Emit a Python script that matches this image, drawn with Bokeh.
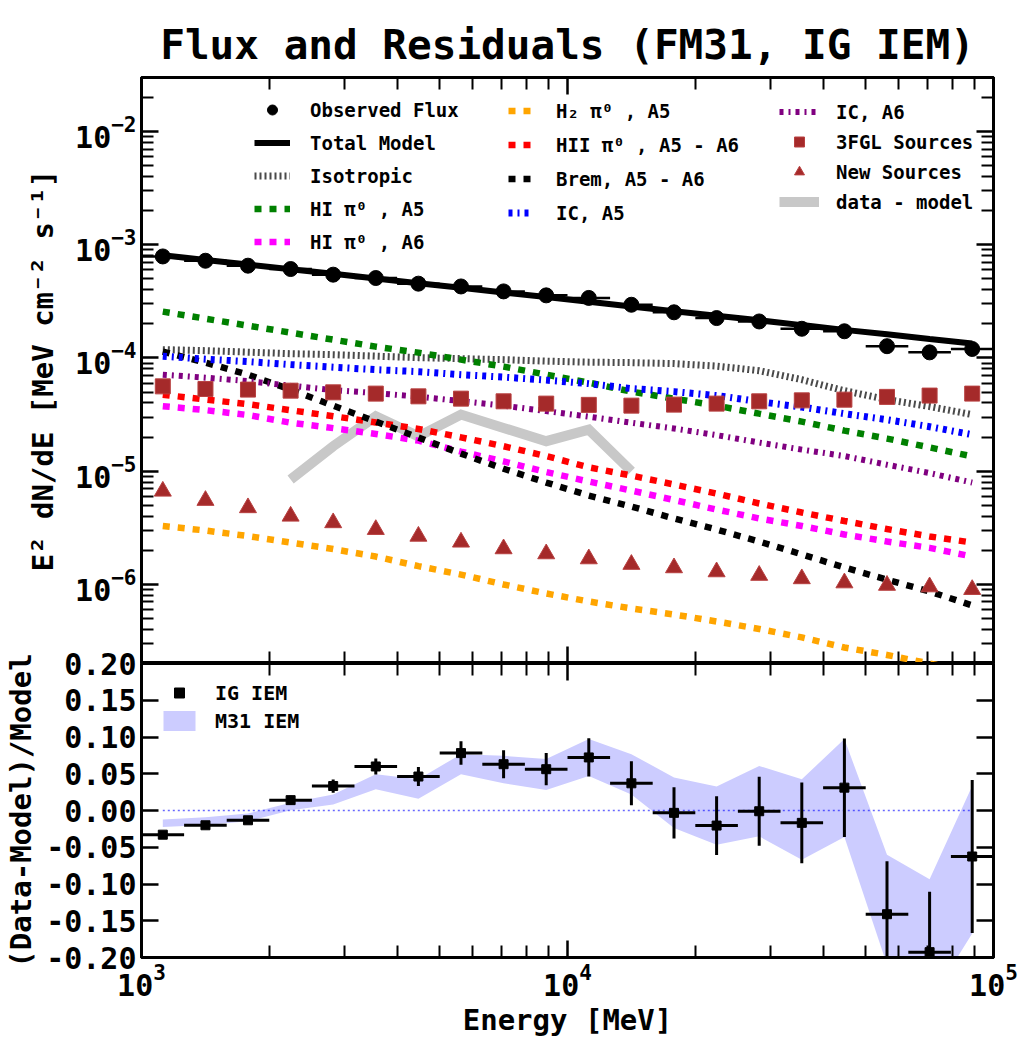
from bokeh.plotting import figure
from bokeh.models import (Range1d, FixedTicker, LogAxis, LinearAxis, Legend, LegendItem,
                          NumeralTickFormatter, CustomJSTickFormatter)
from bokeh.layouts import column
from bokeh.embed import file_html
from bokeh.resources import INLINE

# ---------------- data ----------------
energy = [1122, 1413, 1778, 2239, 2818, 3548, 4467, 5623, 7079, 8913,
          11220, 14125, 17783, 22387, 28184, 35481, 44668, 56234, 70795, 89125]
e_lo = [1000, 1259, 1585, 1995, 2512, 3162, 3981, 5012, 6310, 7943,
        10000, 12589, 15849, 19953, 25119, 31623, 39811, 50119, 63096, 79433]
e_hi = [1259, 1585, 1995, 2512, 3162, 3981, 5012, 6310, 7943, 10000,
        12589, 15849, 19953, 25119, 31623, 39811, 50119, 63096, 79433, 100000]

observed_flux = [7.88e-4, 7.22e-4, 6.53e-4, 6.10e-4, 5.44e-4, 5.08e-4, 4.53e-4, 4.28e-4, 3.87e-4, 3.57e-4,
                 3.39e-4, 2.95e-4, 2.53e-4, 2.25e-4, 2.10e-4, 1.81e-4, 1.72e-4, 1.27e-4, 1.12e-4, 1.20e-4]
total_model = [8.08e-4, 7.34e-4, 6.69e-4, 6.08e-4, 5.54e-4, 5.03e-4, 4.57e-4, 4.17e-4, 3.79e-4, 3.45e-4,
               3.13e-4, 2.85e-4, 2.59e-4, 2.36e-4, 2.15e-4, 1.95e-4, 1.77e-4, 1.62e-4, 1.47e-4, 1.34e-4]
isotropic = [1.184e-4, 1.160e-4, 1.125e-4, 1.091e-4, 1.069e-4, 1.037e-4, 1.006e-4, 9.86e-5, 9.66e-5, 9.37e-5,
             9.18e-5, 9.09e-5, 8.91e-5, 8.47e-5, 7.72e-5, 6.43e-5, 5.14e-5, 4.29e-5, 3.72e-5, 3.16e-5]
hi_a5 = [2.563e-4, 2.223e-4, 1.928e-4, 1.672e-4, 1.450e-4, 1.258e-4, 1.114e-4, 9.66e-5, 8.38e-5, 7.12e-5,
         6.05e-5, 5.04e-5, 4.37e-5, 3.79e-5, 3.22e-5, 2.74e-5, 2.28e-5, 1.94e-5, 1.62e-5, 1.35e-5]
hi_a6 = [3.75e-5, 3.46e-5, 3.13e-5, 2.68e-5, 2.40e-5, 2.13e-5, 1.86e-5, 1.49e-5, 1.22e-5, 9.82e-6,
         8.09e-6, 6.74e-6, 5.56e-6, 4.58e-6, 3.82e-6, 3.28e-6, 2.76e-6, 2.39e-6, 2.10e-6, 1.76e-6]
h2_a5 = [3.28e-6, 2.99e-6, 2.67e-6, 2.34e-6, 2.05e-6, 1.76e-6, 1.45e-6, 1.22e-6, 9.98e-7, 8.31e-7,
         7.06e-7, 6.13e-7, 5.42e-7, 4.70e-7, 4.04e-7, 3.40e-7, 2.77e-7, 2.38e-7, 2.00e-7, 1.70e-7]
hii_a5_a6 = [4.74e-5, 4.29e-5, 3.91e-5, 3.45e-5, 3.06e-5, 2.69e-5, 2.36e-5, 1.99e-5, 1.66e-5, 1.36e-5,
             1.08e-5, 9.14e-6, 7.62e-6, 6.34e-6, 5.18e-6, 4.31e-6, 3.63e-6, 3.08e-6, 2.65e-6, 2.34e-6]
brem_a5_a6 = [1.137e-4, 9.09e-5, 7.12e-5, 5.25e-5, 3.79e-5, 2.74e-5, 1.98e-5, 1.43e-5, 1.05e-5, 7.93e-6,
              6.09e-6, 4.87e-6, 3.82e-6, 3.05e-6, 2.39e-6, 1.84e-6, 1.41e-6, 1.10e-6, 8.66e-7, 6.51e-7]
ic_a5 = [1.037e-4, 9.76e-5, 9.28e-5, 8.73e-5, 8.29e-5, 7.88e-5, 7.57e-5, 7.12e-5, 6.77e-5, 6.37e-5,
         5.93e-5, 5.36e-5, 5.04e-5, 4.65e-5, 4.11e-5, 3.68e-5, 3.22e-5, 2.85e-5, 2.47e-5, 2.10e-5]
ic_a6 = [7.12e-5, 6.70e-5, 6.24e-5, 5.69e-5, 5.20e-5, 4.89e-5, 4.55e-5, 4.16e-5, 3.79e-5, 3.39e-5,
         3.03e-5, 2.68e-5, 2.38e-5, 2.08e-5, 1.79e-5, 1.55e-5, 1.36e-5, 1.14e-5, 9.62e-6, 7.93e-6]
fgl3_sources = [5.61e-5, 5.32e-5, 5.25e-5, 5.14e-5, 4.97e-5, 4.84e-5, 4.58e-5, 4.37e-5, 4.14e-5, 3.95e-5,
                3.85e-5, 3.79e-5, 3.87e-5, 3.95e-5, 4.14e-5, 4.22e-5, 4.28e-5, 4.53e-5, 4.65e-5, 4.84e-5]
new_sources = [6.65e-6, 5.51e-6, 4.75e-6, 4.00e-6, 3.50e-6, 3.05e-6, 2.66e-6, 2.36e-6, 2.06e-6, 1.86e-6,
               1.68e-6, 1.50e-6, 1.40e-6, 1.29e-6, 1.20e-6, 1.12e-6, 1.03e-6, 9.8e-7, 9.5e-7, 9.0e-7]
dm_energy = [2239, 2818, 3548, 4467, 5623, 7079, 8913, 11220, 14125]
data_minus_model = [8.43e-6, 1.66e-5, 3.05e-5, 2.03e-5, 3.16e-5, 2.41e-5, 1.84e-5, 2.33e-5, 9.98e-6]

residual_ig = [-0.0329, -0.0201, -0.0133, 0.0141, 0.0333, 0.0599, 0.0462, 0.0781, 0.0630, 0.0562,
               0.0722, 0.0370, -0.0032, -0.0205, -0.0010, -0.0168, 0.0311, -0.1411, -0.1927, -0.0626]
residual_err = [0.003, 0.004, 0.005, 0.006, 0.009, 0.011, 0.013, 0.016, 0.019, 0.022,
                0.026, 0.030, 0.035, 0.040, 0.047, 0.055, 0.067, 0.072, 0.082, 0.104]
m31_upper = [-0.0123, -0.0092, -0.0041, 0.0105, 0.0219, 0.0493, 0.0425, 0.0767, 0.0744, 0.0699,
             0.0973, 0.0767, 0.0448, 0.0325, 0.0607, 0.0425, 0.0973, -0.0603, -0.0936, 0.0333]
m31_lower = [-0.0223, -0.0196, -0.0147, 0.0004, 0.0082, 0.0288, 0.0160, 0.0493, 0.0370, 0.0278,
             0.0470, 0.0219, -0.0237, -0.0466, -0.0352, -0.0671, -0.0360, -0.2100, -0.2600, -0.1675]

x_major = [1e3, 1e4, 1e5]
x_minor = [m * 10 ** k for k in (3, 4) for m in range(2, 10)]
y_major = [1e-6, 1e-5, 1e-4, 1e-3, 1e-2]
y_minor = [m * 10.0 ** k for k in range(-7, -1) for m in range(2, 10)]
res_ticks = [-0.20, -0.15, -0.10, -0.05, 0.0, 0.05, 0.10, 0.15, 0.20]

FONT = "DejaVu Sans Mono"


def style_axis(ax, show_labels=True):
    ax.axis_line_width = 3
    ax.axis_line_color = "black"
    ax.major_tick_line_width = 2.5
    ax.minor_tick_line_width = 2
    ax.major_tick_line_color = "black"
    ax.minor_tick_line_color = "black"
    ax.major_tick_in = 17
    ax.major_tick_out = 0
    ax.minor_tick_in = 12
    ax.minor_tick_out = 0
    ax.major_label_text_font = FONT
    ax.major_label_text_font_style = "bold"
    ax.major_label_text_color = "black"
    ax.axis_label_text_font = FONT
    ax.axis_label_text_font_style = "bold"
    ax.axis_label_text_font_size = "29px"
    ax.axis_label_text_color = "black"
    if show_labels:
        ax.major_label_text_font_size = "30px"
        ax.major_label_standoff = 5
    else:
        ax.formatter = CustomJSTickFormatter(code="return ''")
        ax.major_label_text_font_size = "1px"
        ax.major_label_standoff = 0


x_range = Range1d(1e3, 1e5)

# ---------------- upper panel ----------------
p1 = figure(x_axis_type="log", y_axis_type="log", x_range=x_range, y_range=Range1d(2e-7, 3e-2),
            frame_width=852, frame_height=586, min_border_left=141, min_border_right=25,
            min_border_top=77, min_border_bottom=0, output_backend="svg", toolbar_location=None,
            title="Flux and Residuals (FM31, IG IEM)")
p1.title.align = "center"
p1.title.text_font = FONT
p1.title.text_font_style = "bold"
p1.title.text_font_size = "41px"
p1.title.text_color = "black"
p1.title.standoff = 18
p1.xgrid.visible = False
p1.ygrid.visible = False
p1.outline_line_color = "black"
p1.outline_line_width = 3
p1.background_fill_color = "white"

p1.xaxis.ticker = FixedTicker(ticks=x_major, minor_ticks=x_minor)
p1.yaxis.ticker = FixedTicker(ticks=y_major, minor_ticks=y_minor)
p1.yaxis.axis_label = "E² dN/dE [MeV cm⁻² s⁻¹]"
style_axis(p1.xaxis[0], show_labels=False)
style_axis(p1.yaxis[0])
p1.yaxis.axis_label_standoff = 12
ax_r = LogAxis(ticker=FixedTicker(ticks=y_major, minor_ticks=y_minor))
style_axis(ax_r, show_labels=False)
p1.add_layout(ax_r, "right")
ax_t = LogAxis(ticker=FixedTicker(ticks=x_major, minor_ticks=x_minor))
style_axis(ax_t, show_labels=False)
p1.add_layout(ax_t, "above")

dotted = dict(line_width=6.5, line_dash="7 8", line_cap="butt")
r_dm = p1.line(dm_energy, data_minus_model, line_color="#c8c8c8", line_width=10, line_join="miter")
r_iso = p1.line(energy, isotropic, line_color="#4a4a4a", line_width=7, line_dash="2 3")
r_hi5 = p1.line(energy, hi_a5, line_color="green", **dotted)
r_hi6 = p1.line(energy, hi_a6, line_color="#ff00ff", **dotted)
r_h2 = p1.line(energy, h2_a5, line_color="orange", **dotted)
r_hii = p1.line(energy, hii_a5_a6, line_color="red", **dotted)
r_brem = p1.line(energy, brem_a5_a6, line_color="black", **dotted)
r_ic5 = p1.line(energy, ic_a5, line_color="blue", line_width=7, line_dash="4 5 2 5", line_cap="butt")
r_ic6 = p1.line(energy, ic_a6, line_color="purple", line_width=6, line_dash="4 5 2 5", line_cap="butt")
r_fgl = p1.scatter(energy, fgl3_sources, marker="square", size=15, fill_color="#a52a2a",
                   line_color="#b84040", line_width=1)
r_new = p1.scatter(energy, new_sources, marker="triangle", size=17, fill_color="#a52a2a",
                   line_color="#b84040", line_width=1)
p1.segment(x0=e_lo, y0=observed_flux, x1=e_hi, y1=observed_flux, line_color="black", line_width=2.5)
r_obs = p1.scatter(energy, observed_flux, marker="circle", size=15, color="black")
r_model = p1.line(energy, total_model, line_color="black", line_width=6)


def make_legend(items, loc, glyph_w, spacing, standoff, font="19px"):
    lg = Legend(items=items, location=loc, orientation="vertical")
    lg.label_text_font = FONT
    lg.label_text_font_style = "bold"
    lg.label_text_font_size = font
    lg.label_text_color = "black"
    lg.label_height = 25
    lg.glyph_height = 25
    lg.glyph_width = glyph_w
    lg.spacing = spacing
    lg.padding = 0
    lg.margin = 0
    lg.label_standoff = standoff
    lg.border_line_alpha = 0
    lg.background_fill_alpha = 0
    return lg


leg1 = make_legend([
    LegendItem(label="Observed Flux", renderers=[r_obs]),
    LegendItem(label="Total Model", renderers=[r_model]),
    LegendItem(label="Isotropic", renderers=[r_iso]),
    LegendItem(label="HI π⁰ , A5", renderers=[r_hi5]),
    LegendItem(label="HI π⁰ , A6", renderers=[r_hi6]),
], (113, 409), 36, 8, 20)
leg2 = make_legend([
    LegendItem(label="H₂ π⁰ , A5", renderers=[r_h2]),
    LegendItem(label="HII π⁰ , A5 - A6", renderers=[r_hii]),
    LegendItem(label="Brem, A5 - A6", renderers=[r_brem]),
    LegendItem(label="IC, A5", renderers=[r_ic5]),
], (367, 438), 24, 9, 24)
leg3 = make_legend([
    LegendItem(label="IC, A6", renderers=[r_ic6]),
    LegendItem(label="3FGL Sources", renderers=[r_fgl]),
    LegendItem(label="New Sources", renderers=[r_new]),
    LegendItem(label="data - model", renderers=[r_dm]),
], (638, 449), 40, 5, 17)
for lg in (leg1, leg2, leg3):
    p1.add_layout(lg, "center")

# ---------------- lower panel ----------------
OVERLAP = 20
p2 = figure(x_axis_type="log", x_range=x_range, y_range=Range1d(-0.2, 0.2),
            frame_width=852, frame_height=294, min_border_left=141, min_border_right=25,
            min_border_top=OVERLAP, min_border_bottom=80, output_backend="svg", toolbar_location=None,
            margin=(-OVERLAP, 0, 0, 0))
p2.border_fill_alpha = 0
p2.xgrid.visible = False
p2.ygrid.visible = False
p2.outline_line_color = "black"
p2.outline_line_width = 3
p2.background_fill_color = "white"
p2.xaxis.ticker = FixedTicker(ticks=x_major, minor_ticks=x_minor)
p2.yaxis.ticker = FixedTicker(ticks=res_ticks)
p2.yaxis.formatter = NumeralTickFormatter(format="0.00")
p2.xaxis.axis_label = "Energy [MeV]"
p2.yaxis.axis_label = "(Data-Model)/Model"
style_axis(p2.xaxis[0])
style_axis(p2.yaxis[0])
p2.xaxis.axis_label_standoff = 4
p2.yaxis.axis_label_standoff = 5
ax_r2 = LinearAxis(ticker=FixedTicker(ticks=res_ticks))
style_axis(ax_r2, show_labels=False)
p2.add_layout(ax_r2, "right")
ax_t2 = LogAxis(ticker=FixedTicker(ticks=x_major, minor_ticks=x_minor))
style_axis(ax_t2, show_labels=False)
p2.add_layout(ax_t2, "above")

r_band = p2.varea(x=energy, y1=m31_lower, y2=m31_upper, fill_color="#ccccff")
p2.line(energy, [0.0] * len(energy), line_color="blue", line_alpha=0.6, line_width=1.5, line_dash="2 3")
p2.segment(x0=e_lo, y0=residual_ig, x1=e_hi, y1=residual_ig, line_color="black", line_width=3)
p2.segment(x0=energy, y0=[r - e for r, e in zip(residual_ig, residual_err)],
           x1=energy, y1=[r + e for r, e in zip(residual_ig, residual_err)],
           line_color="black", line_width=3)
r_res = p2.scatter(energy, residual_ig, marker="square", size=9, color="black")

leg4 = make_legend([
    LegendItem(label="IG IEM", renderers=[r_res]),
    LegendItem(label="M31 IEM", renderers=[r_band]),
], (18, 224), 40, 3, 16, font="20px")
p2.add_layout(leg4, "center")

layout = column(p1, p2, spacing=0)
open("out.html", "w").write(file_html(layout, INLINE))
